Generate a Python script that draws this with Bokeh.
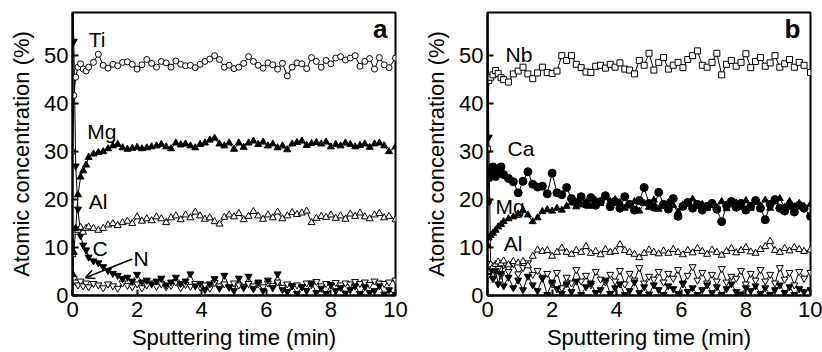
from bokeh.plotting import figure
from bokeh.layouts import row
from bokeh.models import FixedTicker, Range1d, Arrow, OpenHead, Label
from bokeh.embed import file_html
from bokeh.resources import INLINE

# ---------------- data ----------------
t_min = [0, 0.04, 0.1, 0.17, 0.25, 0.33, 0.42, 0.5, 0.65, 0.8,
         0.95, 1.1, 1.25, 1.4, 1.55, 1.7, 1.85, 2.0, 2.15, 2.3,
         2.45, 2.6, 2.75, 2.9, 3.05, 3.2, 3.35, 3.5, 3.65, 3.8,
         3.95, 4.1, 4.25, 4.4, 4.55, 4.7, 4.85, 5.0, 5.15, 5.3,
         5.45, 5.6, 5.75, 5.9, 6.05, 6.2, 6.35, 6.5, 6.65, 6.8,
         6.95, 7.1, 7.25, 7.4, 7.55, 7.7, 7.85, 8.0, 8.15, 8.3,
         8.45, 8.6, 8.75, 8.9, 9.05, 9.2, 9.35, 9.5, 9.65, 9.8,
         10.0]

# panel a
a_Ti = [30, 41.7, 45.5, 47.6, 48.3, 47.2, 46.8, 47.6, 48.6, 50.3,
        48.0, 47.4, 48.2, 47.9, 48.6, 48.7, 48.2, 47.2, 48.1, 49.2,
        48.4, 47.6, 48.8, 48.5, 47.6, 48.9, 48.2, 47.9, 48.0, 47.5,
        48.2, 48.8, 49.3, 50.0, 49.2, 47.6, 48.0, 47.3, 47.6, 48.4,
        49.8, 48.8, 48.0, 47.4, 48.5, 48.1, 47.2, 48.4, 45.8, 47.6,
        48.5, 48.3, 47.3, 49.6, 48.8, 47.6, 49.0, 48.3, 49.5, 49.8,
        49.1, 49.5, 50.0, 47.8, 48.8, 49.4, 47.2, 49.6, 48.1, 47.5,
        49.5]
a_Mg = [4.5, 9, 14, 21, 24.7, 26, 27.2, 28.8, 29.5, 29.8,
        30.0, 30.6, 31.2, 31.5, 30.8, 30.5, 30.7, 30.9, 30.6, 30.8,
        31.0, 31.2, 31.5, 31.0, 30.6, 31.8, 31.4, 31.6, 31.2, 30.8,
        31.5, 31.8, 32.4, 32.8, 31.6, 31.2, 31.8, 30.5, 31.8, 30.9,
        31.8, 32.2, 31.5, 32.0, 31.2, 31.6, 30.8, 31.2, 30.4, 31.6,
        31.9, 32.2, 31.3, 31.7, 31.9, 31.6, 32.0, 31.0, 31.5, 31.2,
        31.8, 31.5, 31.0, 31.3, 31.6, 30.9, 31.6, 31.8, 31.2, 30.0,
        31.0]
a_Al = [8.5, 13.5, 13.2, 13.6, 14.2, 13.2, 14.0, 14.3, 14.0, 13.6,
        14.0, 14.7, 15.0, 14.6, 15.2, 15.5, 15.0, 16.4, 15.5, 16.0,
        15.6, 16.4, 16.0, 15.2, 16.2, 16.6, 15.8, 16.8, 16.2, 17.4,
        16.6, 15.9, 16.2, 15.4, 14.9, 16.3, 16.8, 16.4, 17.1, 15.8,
        16.5, 17.5, 16.6, 15.9, 16.8, 16.2, 17.4, 16.0, 16.6, 17.3,
        16.9, 17.2, 17.6, 15.2, 16.1, 16.5, 16.3, 16.8, 16.1, 16.6,
        15.9, 17.0, 16.5, 17.2, 16.4, 16.0, 16.8, 17.1, 16.2, 16.5,
        15.8]
a_C = [62, 53, 27, 18, 12.5, 10.5, 9.5, 8, 7.2, 6.8,
       6.0, 5.2, 4.6, 4.2, 3.5, 3.8, 3.0, 4.4, 2.8, 3.2,
       2.4, 3.0, 3.6, 2.2, 2.8, 3.8, 2.5, 3.0, 4.5, 2.0,
       2.5, 1.2, 2.4, 3.5, 1.5, 4.2, 1.8, 1.0, 3.6, 1.6,
       4.0, 1.4, 2.8, 1.0, 3.2, 1.6, 4.5, 1.2, 0.8, 2.0,
       0.4, 1.8, 1.0, 2.6, 0.6, 1.5, 0.4, 2.2, 1.0, 1.6,
       0.5, 1.2, 2.0, 0.4, 1.8, 0.6, 1.0, 2.0, 0.3, 1.2,
       0.2]
a_N = [3.0, 3.5, 2.8, 2.2, 3.0, 2.0, 2.6, 1.8, 2.5, 2.2,
       1.6, 2.4, 2.0, 1.5, 2.6, 2.1, 1.8, 2.4, 1.6, 2.2,
       2.6, 1.9, 2.4, 1.8, 2.1, 2.8, 1.6, 2.3, 1.9, 2.5,
       1.8, 2.2, 1.5, 2.7, 2.0, 2.4, 1.7, 2.6, 2.2, 1.9,
       2.5, 2.0, 2.4, 1.8, 2.6, 2.1, 2.8, 1.7, 2.4, 2.0,
       2.2, 1.8, 2.6, 2.3, 2.9, 2.0, 2.5, 2.3, 2.7, 2.2,
       2.6, 2.4, 2.9, 2.5, 2.8, 2.3, 3.0, 2.6, 2.5, 2.8,
       3.2]

# panel b
b_Nb = [30.5, 44.8, 45.5, 46.0, 46.9, 46.3, 45.4, 45.0, 44.5, 46.2,
        46.8, 47.6, 46.2, 45.2, 46.4, 47.6, 46.5, 46.3, 46.8, 50.0,
        49.0, 50.0, 48.2, 47.5, 46.6, 46.5, 47.8, 48.0, 47.4, 48.2,
        47.6, 48.5, 47.2, 47.0, 46.2, 49.0, 48.0, 50.5, 47.0, 48.6,
        49.6, 47.2, 48.0, 48.6, 47.5, 49.2, 50.0, 51.0, 48.0, 47.6,
        48.6, 50.5, 46.0, 48.2, 49.0, 47.8, 48.6, 50.4, 47.5, 48.8,
        49.6, 47.8, 48.5, 50.0, 47.6, 48.3, 49.2, 47.6, 48.6, 48.0,
        46.5]
b_Ca = [19.6, 24.5, 26.0, 26.8, 24.8, 26.2, 26.8, 25.2, 24.4, 23.7,
        21.4, 23.8, 25.8, 23.2, 22.6, 22.8, 21.2, 25.5, 21.4, 21.0,
        22.5, 20.2, 19.4, 20.6, 19.0, 20.4, 18.8, 19.6, 20.8, 18.5,
        19.6, 18.2, 20.6, 19.0, 17.8, 19.8, 22.5, 19.2, 18.4, 21.5,
        19.0, 18.0, 20.2, 16.5, 18.6, 19.4, 18.2, 19.0, 17.8, 18.6,
        19.2, 18.0, 15.4, 18.8, 19.6, 18.4, 19.2, 17.8, 18.6, 19.8,
        18.2, 15.8, 19.0, 20.0, 18.2, 17.6, 18.8, 17.4, 18.8, 18.2,
        16.5]
b_Mg = [10.5, 12.0, 12.5, 13.0, 13.6, 14.3, 14.8, 15.4, 16.0, 16.4,
        17.0, 17.8, 16.8, 15.4, 16.2, 17.5, 17.9, 17.6, 18.2, 17.8,
        18.6, 19.3, 18.5, 18.9, 19.4, 18.6, 19.8, 19.2, 20.4, 19.6,
        20.0, 19.4, 18.2, 18.9, 19.6, 17.6, 19.2, 18.4, 19.9, 18.0,
        18.6, 19.4, 18.8, 17.4, 18.9, 19.2, 20.1, 18.6, 19.0, 18.2,
        18.8, 18.4, 19.6, 18.1, 18.9, 19.3, 18.4, 19.8, 18.2, 19.4,
        18.7, 19.9, 18.2, 19.5, 20.2, 18.4, 19.6, 18.5, 19.2, 18.6,
        19.0]
b_Al = [5.0, 6.4, 6.4, 6.0, 6.5, 7.0, 6.6, 7.2, 6.4, 7.1,
        6.8, 7.1, 6.2, 8.2, 9.5, 9.2, 9.4, 8.2, 9.0, 9.9,
        9.0, 8.6, 9.4, 9.0, 10.2, 8.8, 9.2, 8.5, 9.6, 9.0,
        9.2, 10.6, 9.4, 9.0, 8.6, 7.9, 8.8, 9.5, 9.0, 8.7,
        9.3, 8.8, 9.6, 9.0, 8.5, 9.4, 8.9, 9.8, 9.2, 8.6,
        9.5, 9.0, 8.4, 9.2, 9.8, 8.9, 9.4, 10.0, 9.1, 8.8,
        9.6, 10.2, 11.3, 9.4, 9.0, 9.8, 9.3, 10.0, 9.6, 9.2,
        9.5]
b_N = [4.0, 6.0, 5.2, 6.2, 4.8, 5.6, 4.2, 6.4, 5.0, 6.6,
       4.5, 5.8, 6.8, 4.4, 5.2, 3.8, 4.6, 2.4, 4.8, 1.6,
       3.8, 2.6, 5.4, 3.0, 4.2, 2.2, 5.0, 3.4, 2.8, 4.4,
       3.0, 5.2, 2.4, 4.6, 3.2, 5.8, 2.6, 4.0, 3.4, 5.0,
       2.8, 4.6, 3.6, 5.4, 2.4, 4.2, 6.0, 3.2, 4.8, 2.6,
       4.4, 3.0, 5.6, 2.8, 4.0, 3.6, 5.2, 2.4, 4.6, 3.2,
       5.4, 3.0, 4.4, 2.6, 5.8, 3.4, 4.8, 2.2, 5.0, 3.6,
       4.8]
b_C = [65, 33, 5.0, 3.5, 5.2, 2.4, 4.6, 2.0, 3.8, 1.6,
       3.2, 1.2, 4.0, 2.2, 1.0, 3.6, 0.2, 2.8, 1.4, 0.4,
       2.4, 0.8, 3.0, 0.2, 1.8, 2.6, 0.6, 1.2, 3.2, 0.4,
       1.6, 2.4, 0.2, 1.0, 2.8, 0.6, 1.8, 0.3, 2.2, 1.2,
       0.2, 2.0, 1.4, 0.4, 2.6, 0.8, 1.6, 0.2, 1.2, 2.2,
       0.6, 1.8, 0.2, 1.4, 2.4, 0.8, 0.3, 1.6, 1.0, 2.0,
       0.4, 1.6, 0.2, 1.2, 2.2, 0.6, 1.8, 0.2, 1.4, 0.8,
       1.2]

x_ticks = [0, 2, 4, 6, 8, 10]
y_ticks = [0, 10, 20, 30, 40, 50]
x_label = "Sputtering time (min)"
y_label = "Atomic concentration (%)"

FONT = "Liberation Sans"


def make_panel(width, left, right, series, labels, letter, letter_x):
    p = figure(width=width, height=352, output_backend="svg", toolbar_location=None,
               min_border_left=left, min_border_right=right,
               min_border_top=12, min_border_bottom=56,
               x_range=Range1d(0, 10), y_range=Range1d(0, 59))
    p.grid.visible = False
    p.outline_line_color = "black"
    p.outline_line_width = 2
    p.background_fill_color = "white"
    p.border_fill_color = "white"
    for ax in (p.xaxis[0], p.yaxis[0]):
        ax.axis_line_width = 2
        ax.major_tick_in = 6
        ax.major_tick_out = 0
        ax.major_tick_line_width = 2
        ax.minor_tick_line_color = None
        ax.major_label_text_font = FONT
        ax.major_label_text_font_size = "22px"
        ax.major_label_text_color = "black"
        ax.axis_label_text_font = FONT
        ax.axis_label_text_font_size = "22px"
        ax.axis_label_text_font_style = "normal"
        ax.axis_label_text_color = "black"
    p.xaxis.ticker = FixedTicker(ticks=x_ticks)
    p.yaxis.ticker = FixedTicker(ticks=y_ticks)
    p.xaxis.axis_label = x_label
    p.yaxis.axis_label = y_label
    p.xaxis.major_label_standoff = 6
    p.yaxis.major_label_standoff = 4
    p.xaxis.axis_label_standoff = 5
    p.yaxis.axis_label_standoff = 7

    for ys, marker, filled, size in series:
        p.line(t_min, ys, line_color="black", line_width=1)
    for ys, marker, filled, size in series:
        p.scatter(t_min, ys, marker=marker, size=size, line_color="black",
                  line_width=1, fill_color="black" if filled else "white")

    for txt, lx, ly in labels:
        p.add_layout(Label(x=lx, y=ly, text=txt, text_font=FONT, text_font_size="21px",
                           text_color="black", text_baseline="alphabetic", text_align="left"))
    p.add_layout(Label(x=letter_x, y=55.5, text=letter, text_font=FONT, text_font_size="26px",
                       text_font_style="bold", text_color="black",
                       text_baseline="alphabetic", text_align="right"))
    return p


pa = make_panel(410, 72, 15,
                [(a_N, "inverted_triangle", False, 7),
                 (a_C, "inverted_triangle", True, 7),
                 (a_Al, "triangle", False, 7),
                 (a_Mg, "triangle", True, 7),
                 (a_Ti, "circle", False, 6)],
                [("Ti", 0.5, 53.3), ("Mg", 0.46, 34.1), ("Al", 0.5, 19.6),
                 ("C", 0.62, 9.8), ("N", 1.89, 7.7)],
                "a", 9.75)
pa.add_layout(Arrow(end=OpenHead(size=9, line_width=1.5, line_color="black"),
                    x_start=1.85, y_start=7.6, x_end=0.40, y_end=3.7,
                    line_width=1.5, line_color="black"))

pb = make_panel(412, 77, 12,
                [(b_N, "inverted_triangle", False, 7),
                 (b_C, "inverted_triangle", True, 7),
                 (b_Al, "triangle", False, 7),
                 (b_Mg, "triangle", True, 7),
                 (b_Ca, "circle", True, 8),
                 (b_Nb, "square", False, 6)],
                [("Nb", 0.56, 50.3), ("Ca", 0.62, 30.6), ("Mg", 0.25, 18.5),
                 ("Al", 0.5, 10.8)],
                "b", 9.69)

layout = row(pa, pb)
open("out.html", "w").write(file_html(layout, INLINE))
